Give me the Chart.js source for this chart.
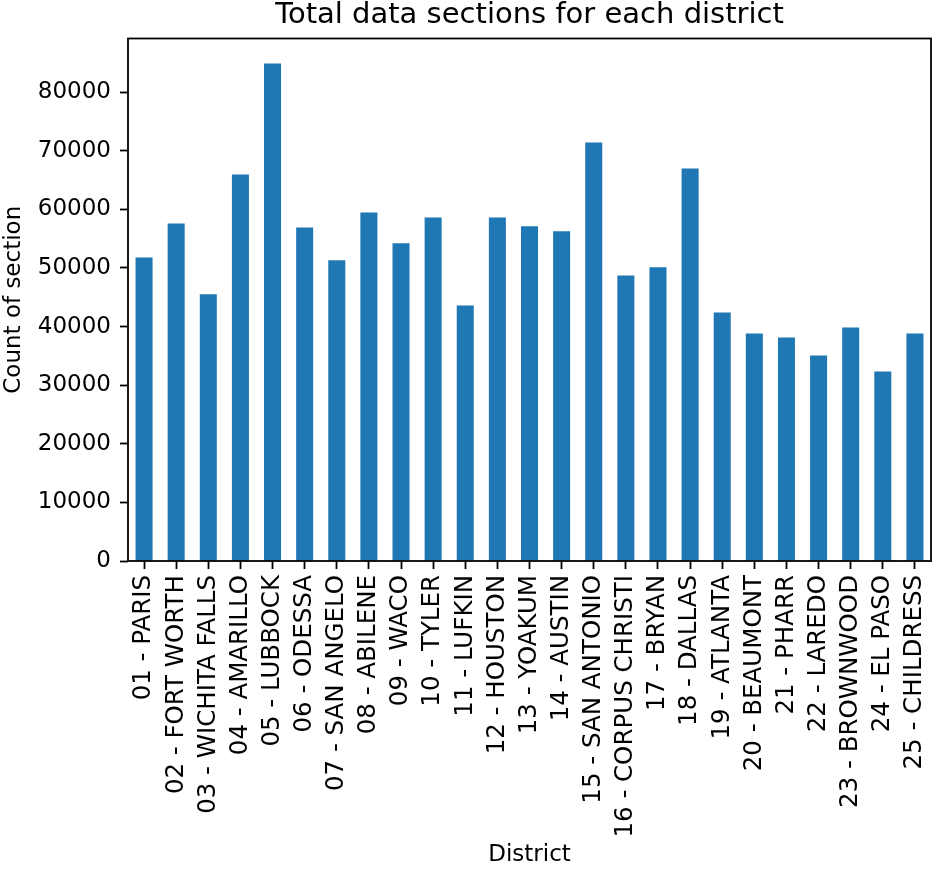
<!DOCTYPE html>
<html>
<head>
<meta charset="utf-8">
<title>Total data sections for each district</title>
<script src="https://cdn.jsdelivr.net/npm/chart.js@4.4.1/dist/chart.umd.min.js"></script>
<style>
  html, body { margin: 0; padding: 0; background: #fff; }
  #wrap { width: 932px; height: 869px; }
</style>
</head>
<body>
<div id="wrap"><canvas id="districtChart" width="932" height="869"></canvas></div>
<script>
// data
const districts = [
  '01 - PARIS', '02 - FORT WORTH', '03 - WICHITA FALLS', '04 - AMARILLO',
  '05 - LUBBOCK', '06 - ODESSA', '07 - SAN ANGELO', '08 - ABILENE',
  '09 - WACO', '10 - TYLER', '11 - LUFKIN', '12 - HOUSTON', '13 - YOAKUM',
  '14 - AUSTIN', '15 - SAN ANTONIO', '16 - CORPUS CHRISTI', '17 - BRYAN',
  '18 - DALLAS', '19 - ATLANTA', '20 - BEAUMONT', '21 - PHARR',
  '22 - LAREDO', '23 - BROWNWOOD', '24 - EL PASO', '25 - CHILDRESS'
];
const sectionCounts = [
  51800, 57600, 45500, 65950, 84900, 56900, 51300, 59450,
  54200, 58600, 43600, 58600, 57100, 56250, 71400, 48700,
  50100, 66950, 42400, 38800, 38150, 35050, 39850, 32350, 38800
];
const yTicks = [0, 10000, 20000, 30000, 40000, 50000, 60000, 70000, 80000];
const yMax = 89150;

const FONT = "'DejaVu Sans', 'Liberation Sans', sans-serif";

// matplotlib-like box around the plot area
const frame = {
  id: 'frame',
  afterDatasetsDraw(chart) {
    const a = chart.chartArea;
    const ctx = chart.ctx;
    ctx.save();
    ctx.strokeStyle = '#000';
    ctx.lineWidth = 1.8;
    ctx.strokeRect(a.left, a.top, a.right - a.left, a.bottom - a.top);
    ctx.restore();
  }
};

new Chart(document.getElementById('districtChart'), {
  type: 'bar',
  data: {
    labels: districts,
    datasets: [{
      label: 'Count of section',
      data: sectionCounts,
      backgroundColor: '#1f77b4',
      barPercentage: 0.53,
      categoryPercentage: 1.0
    }]
  },
  options: {
    responsive: false,
    animation: false,
    layout: { padding: { left: 0, right: 1, top: 0, bottom: 0 } },
    plugins: {
      legend: { display: false },
      tooltip: { enabled: false },
      title: {
        display: true,
        fullSize: false,   // centre over the plot area, like matplotlib
        text: 'Total data sections for each district',
        color: '#000',
        font: { family: FONT, size: 29, weight: 'normal', lineHeight: 1.1 },
        padding: { top: 0, bottom: 6.6 }
      }
    },
    scales: {
      x: {
        offset: true,
        border: { display: false },
        grid: {
          drawOnChartArea: false,
          drawTicks: true,
          tickLength: 8,
          tickWidth: 1.8,
          tickColor: '#000',
          offset: false
        },
        ticks: {
          color: '#000',
          font: { family: FONT, size: 24.5 },
          minRotation: 90,
          maxRotation: 90,
          autoSkip: false,
          padding: 6
        },
        title: {
          display: true,
          text: 'District',
          color: '#000',
          font: { family: FONT, size: 23 },
          padding: { top: 0, bottom: 0 }
        },
        afterFit(scale) {
          scale.height = 308;
          scale.paddingLeft = 0;
          scale.paddingRight = 0;
        }
      },
      y: {
        min: 0,
        max: yMax,
        border: { display: false },
        grid: {
          drawOnChartArea: false,
          drawTicks: true,
          tickLength: 8,
          tickWidth: 1.8,
          tickColor: '#000'
        },
        ticks: {
          color: '#000',
          font: { family: FONT, size: 23 },
          padding: 9,
          callback: v => String(v)
        },
        afterBuildTicks(scale) {
          scale.ticks = yTicks.map(v => ({ value: v }));
        },
        title: {
          display: true,
          text: 'Count of section',
          color: '#000',
          font: { family: FONT, size: 23 },
          padding: { top: 0, bottom: 0 }
        },
        afterFit(scale) {
          scale.width = 128;
        }
      }
    }
  },
  plugins: [frame]
});
</script>
</body>
</html>
